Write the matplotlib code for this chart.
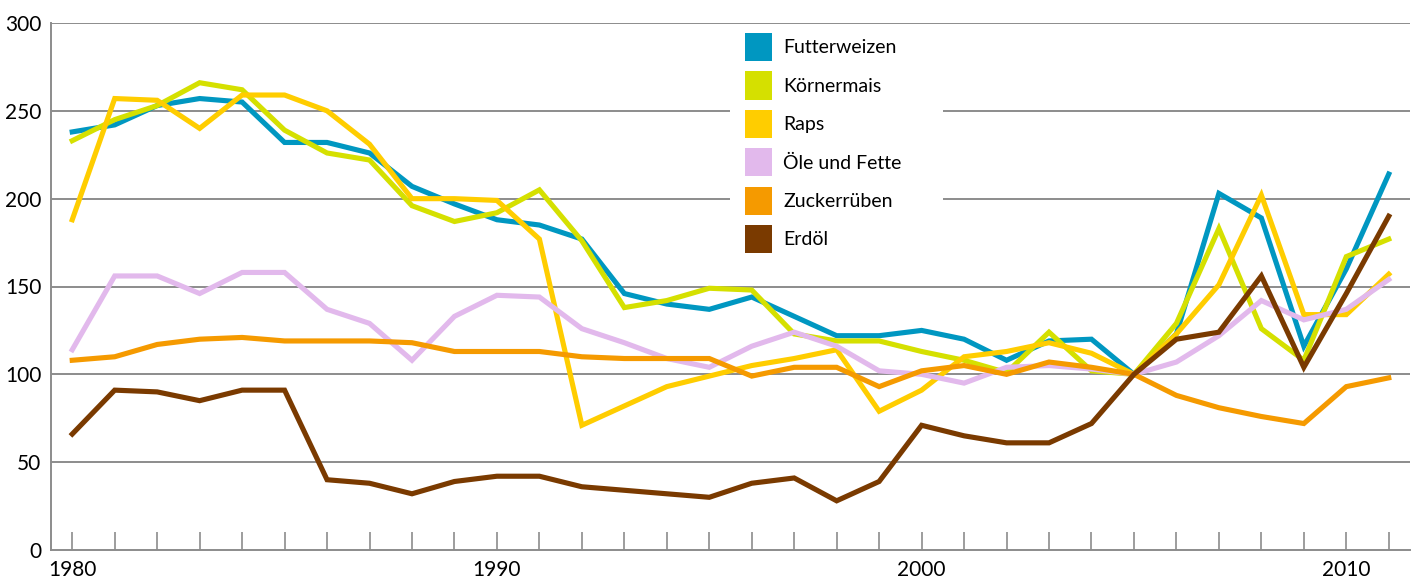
import numpy as np
import matplotlib
matplotlib.use('Agg')
import matplotlib.pyplot as plt
from matplotlib.patches import Patch, Rectangle

plt.rcParams['font.family'] = ['Lato', 'DejaVu Sans']

years = list(range(1980, 2012))

futterweizen = [238, 242, 253, 257, 255, 232, 232, 226, 207, 197,
                188, 185, 177, 146, 140, 137, 144, 133, 122, 122,
                125, 120, 108, 119, 120, 100, 123, 203, 189, 116,
                160, 214]
koernermais = [233, 245, 253, 266, 262, 239, 226, 222, 196, 187,
               192, 205, 176, 138, 142, 149, 148, 123, 119, 119,
               113, 108, 101, 124, 102, 100, 129, 183, 126, 108,
               167, 177]
raps = [188, 257, 256, 240, 259, 259, 250, 231, 200, 200,
        199, 177, 71, 82, 93, 99, 105, 109, 114, 79,
        91, 110, 113, 118, 112, 100, 123, 151, 202, 134,
        134, 157]
oele = [114, 156, 156, 146, 158, 158, 137, 129, 108, 133,
        145, 144, 126, 118, 109, 104, 116, 124, 116, 102,
        100, 95, 104, 105, 103, 100, 107, 122, 142, 131,
        137, 154]
zucker = [108, 110, 117, 120, 121, 119, 119, 119, 118, 113,
          113, 113, 110, 109, 109, 109, 99, 104, 104, 93,
          102, 105, 100, 107, 104, 100, 88, 81, 76, 72,
          93, 98]
erdoel = [66, 91, 90, 85, 91, 91, 40, 38, 32, 39,
          42, 42, 36, 34, 32, 30, 38, 41, 28, 39,
          71, 65, 61, 61, 72, 100, 120, 124, 156, 104,
          146, 190]

series = [
    ('Futterweizen', futterweizen, '#0097c1'),
    ('Körnermais', koernermais, '#d5e000'),
    ('Raps', raps, '#ffcd00'),
    ('Öle und Fette', oele, '#e2b9ec'),
    ('Zuckerrüben', zucker, '#f59a00'),
    ('Erdöl', erdoel, '#7a3a00'),
]

decade_labels = ['1980', '1990', '2000', '2010']
y_ticks = [0, 50, 100, 150, 200, 250, 300]

f = plt.figure(figsize=(14.14, 5.78), dpi=100)
ax = f.add_axes([51/1414, 1 - 550/578, (1410 - 51)/1414, (550 - 23)/578])

grid_c = '#8c8c8c'
for yv in y_ticks[1:]:
    ax.axhline(yv, color=grid_c, lw=1.4, zorder=1)

for name, vals, col in series:
    ax.plot(years, vals, color=col, lw=3.7, solid_joinstyle='miter', zorder=3)

ax.set_xlim(1979.5, 2011.5)
ax.set_ylim(0, 300)

ax.set_xticks(years)
ax.set_xticklabels([str(y) if str(y) in decade_labels else '' for y in years])
ax.set_yticks(y_ticks)
ax.tick_params(axis='x', direction='in', length=13, width=1.2, color=grid_c,
               labelsize=15, pad=7)
ax.tick_params(axis='y', length=0, labelsize=15, pad=7)

for s in ['top', 'right']:
    ax.spines[s].set_visible(False)
for s in ['left', 'bottom']:
    ax.spines[s].set_color(grid_c)
    ax.spines[s].set_linewidth(1.4)

# white box behind legend, cuts the grid lines
ax.add_patch(Rectangle(((730 - 51)/1359, (550 - 262)/527), (943 - 730)/1359,
                       (262 - 26)/527, transform=ax.transAxes,
                       facecolor='white', edgecolor='none', zorder=2))

handles = [Patch(facecolor=c, edgecolor='none') for _, _, c in series]
leg = ax.legend(handles, [n for n, _, _ in series], loc='upper left',
                bbox_to_anchor=((745 - 51)/1359, (550 - 33)/527),
                frameon=False, fontsize=14,
                handlelength=1.39, handleheight=1.86, handletextpad=0.57,
                labelspacing=0.52, borderpad=0, borderaxespad=0)
leg.set_zorder(4)

plt.savefig('out.png', dpi=100)
